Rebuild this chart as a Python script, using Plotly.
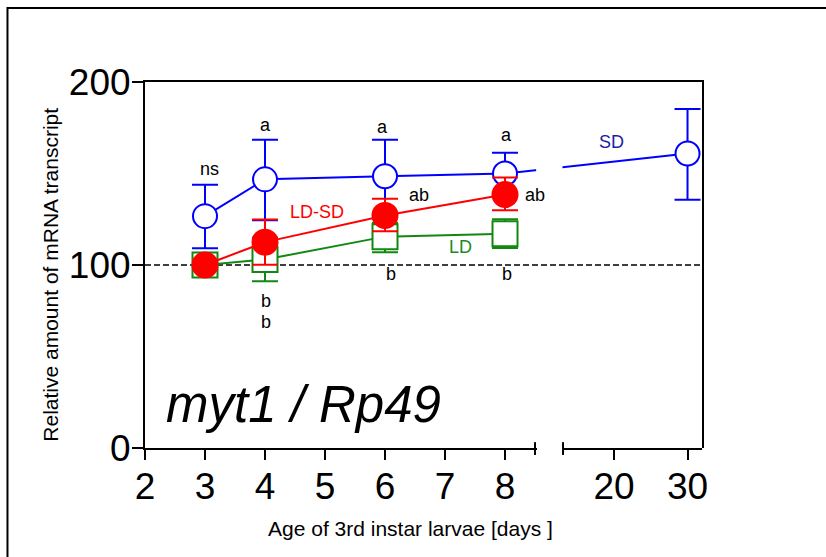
import plotly.graph_objects as go

# ---- data -------------------------------------------------------------
days = [3, 4, 6, 8]
sd_days = [3, 4, 6, 8, 30]

sd_mean = [126.7, 146.8, 148.5, 150.0, 160.9]
sd_upper = [143.9, 168.4, 168.4, 161.3, 185.2]
sd_lower = [109.2, 124.5, 128.6, 139.0, 135.7]

ld_mean = [100.0, 103.0, 115.5, 117.1]
ld_upper = [102.0, 115.0, 123.0, 125.0]
ld_lower = [98.0, 91.1, 107.0, 109.3]

ldsd_mean = [100.0, 112.5, 127.1, 138.5]
ldsd_upper = [102.0, 124.8, 136.2, 147.8]
ldsd_lower = [98.0, 100.1, 118.5, 129.9]

left_ticks = [2, 3, 4, 5, 6, 7, 8]
right_ticks = [20, 30]
y_ticks = [0, 100, 200]

# significance letters: (text, day, value)
letters = [
    ("ns", 3.07, 152.7),
    ("a", 4.01, 176.4),
    ("a", 5.95, 175.5),
    ("a", 8.03, 171.0),
    ("ab", 6.57, 138.5),
    ("ab", 8.50, 138.5),
    ("b", 4.01, 80.5),
    ("b", 4.01, 68.7),
    ("b", 6.10, 95.2),
    ("b", 8.03, 95.2),
]

# series names written next to the curves: (text, day, value, colour)
series_labels = [
    ("SD", 19.7, 167.3, "#1c1ca8"),
    ("LD-SD", 4.86, 128.9, "#ff0000"),
    ("LD", 7.25, 109.8, "#1a8c1a"),
]

BLUE = "#0000ff"
RED = "#ff0000"
GREEN = "#118811"
FONT = "Liberation Sans, Arial, sans-serif"

# ---- broken x axis: two linear segments sharing one plotting area ----
LEFT_RANGE = (2.0, 8.5)
RIGHT_RANGE = (13.06, 31.97)
LEFT_DOMAIN = (0.0, 0.7002)
RIGHT_DOMAIN = (0.7505, 1.0)


def to_frac(day):
    """Position of a day along the full (broken) axis, 0..1."""
    if day <= LEFT_RANGE[1]:
        lo, hi = LEFT_RANGE
        d0, d1 = LEFT_DOMAIN
    else:
        lo, hi = RIGHT_RANGE
        d0, d1 = RIGHT_DOMAIN
    return d0 + (d1 - d0) * (day - lo) / (hi - lo)


def err(mean, upper, lower):
    return ([u - m for u, m in zip(upper, mean)],
            [m - l for m, l in zip(mean, lower)])


fig = go.Figure()


def add_series(xd, mean, upper, lower, color, symbol, fill, size):
    plus, minus = err(mean, upper, lower)
    fig.add_trace(go.Scatter(
        x=[to_frac(d) for d in xd], y=mean,
        mode="lines+markers",
        line=dict(color=color, width=2),
        marker=dict(symbol=symbol, size=size, color=fill,
                    line=dict(color=color, width=2)),
        error_y=dict(type="data", symmetric=False, array=plus,
                     arrayminus=minus, color=color, thickness=2, width=13),
        xaxis="x", yaxis="y", showlegend=False, hoverinfo="skip",
    ))


add_series(sd_days, sd_mean, sd_upper, sd_lower, BLUE, "circle", "white", 24)
add_series(days, ld_mean, ld_upper, ld_lower, GREEN, "square", "white", 25)
add_series(days, ldsd_mean, ldsd_upper, ldsd_lower, RED, "circle", RED, 25)

# empty traces so the two tick-bearing axis segments get their subplots
for ax in ("x2", "x3"):
    fig.add_trace(go.Scatter(x=[], y=[], xaxis=ax, yaxis="y",
                             showlegend=False, hoverinfo="skip"))

seg_axis = dict(anchor="y", ticks="outside", ticklen=10, tickwidth=2,
                tickcolor="black", showline=True, linecolor="black",
                linewidth=2, showgrid=False, zeroline=False,
                ticklabelstandoff=-5,
                tickfont=dict(family=FONT, size=37, color="black"))

fig.update_layout(
    width=826, height=557,
    margin=dict(l=145, r=124, t=82, b=109),
    paper_bgcolor="white", plot_bgcolor="rgba(0,0,0,0)",
    xaxis=dict(domain=[0, 1], range=[0, 1], side="top", anchor="y",
               showline=True, linecolor="black", linewidth=2, ticks="",
               showticklabels=False, showgrid=False, zeroline=False),
    xaxis2=dict(domain=list(LEFT_DOMAIN), range=list(LEFT_RANGE),
                tickvals=left_ticks, **seg_axis),
    xaxis3=dict(domain=list(RIGHT_DOMAIN), range=list(RIGHT_RANGE),
                tickvals=right_ticks, **seg_axis),
    yaxis=dict(domain=[0, 1], range=[0, 200], tickvals=y_ticks,
               ticks="outside", ticklen=11, tickwidth=2, tickcolor="black",
               showline=True, mirror=True, linecolor="black", linewidth=2,
               showgrid=False, zeroline=False, ticklabelstandoff=-6,
               tickfont=dict(family=FONT, size=37, color="black")),
)

shapes = [
    # reference level
    dict(type="line", xref="paper", x0=0, x1=1, yref="y", y0=100, y1=100,
         line=dict(color="black", width=1.5, dash="6px,3px"), layer="below"),
    # gap of the axis break hides the curve crossing it
    dict(type="rect", xref="paper", x0=LEFT_DOMAIN[1] + 0.002,
         x1=RIGHT_DOMAIN[0] - 0.001, yref="y", y0=140, y1=172,
         fillcolor="white", line=dict(width=0), layer="above"),
    # end caps of the broken axis
    dict(type="line", xref="paper", x0=LEFT_DOMAIN[1], x1=LEFT_DOMAIN[1],
         yref="paper", y0=-0.019, y1=0.016, line=dict(color="black", width=2)),
    dict(type="line", xref="paper", x0=RIGHT_DOMAIN[0], x1=RIGHT_DOMAIN[0],
         yref="paper", y0=-0.019, y1=0.016, line=dict(color="black", width=2)),
    # panel frame
    dict(type="rect", xref="paper", x0=-0.2469, x1=1.6, yref="paper",
         y0=-0.6, y1=1.2022, line=dict(color="black", width=2)),
]
fig.update_layout(shapes=shapes)

ann = []
for text, d, v in letters:
    ann.append(dict(x=to_frac(d), y=v, xref="paper", yref="y", text=text,
                    showarrow=False, xanchor="center", yanchor="middle",
                    font=dict(family=FONT, size=18, color="black")))
for text, d, v, col in series_labels:
    ann.append(dict(x=to_frac(d), y=v, xref="paper", yref="y", text=text,
                    showarrow=False, xanchor="center", yanchor="middle",
                    font=dict(family=FONT, size=18, color=col)))

ann.append(dict(x=0.2837, y=0.1175, xref="paper", yref="paper",
                text="<i>myt1 / Rp49</i>", showarrow=False,
                xanchor="center", yanchor="middle",
                font=dict(family=FONT, size=51, color="black")))
ann.append(dict(x=0.4758, y=-0.2213, xref="paper", yref="paper",
                text="Age of 3rd instar larvae [days ]", showarrow=False,
                xanchor="center", yanchor="middle",
                font=dict(family=FONT, size=21, color="black")))
ann.append(dict(x=-0.1693, y=0.4727, xref="paper", yref="paper",
                text="Relative amount of mRNA transcript", showarrow=False,
                textangle=-90, xanchor="center", yanchor="middle",
                font=dict(family=FONT, size=21, color="black")))
fig.update_layout(annotations=ann)

fig.write_html("out.html")
